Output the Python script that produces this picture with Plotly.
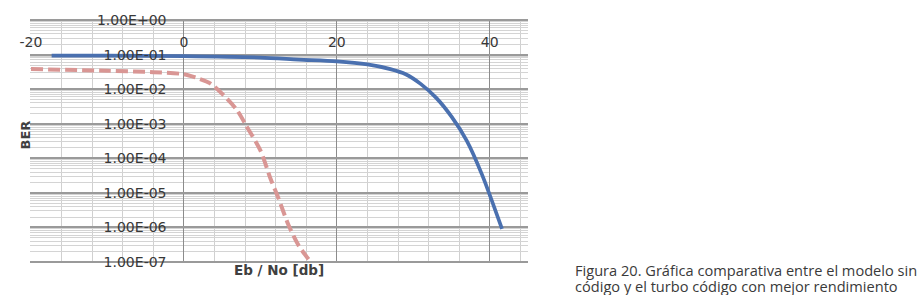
import plotly.graph_objects as go

# Data
ebno_uncoded = [-17.3, -10, 0, 10, 15, 20, 24, 27, 29, 31, 33, 35, 37, 39, 41.6]
ber_uncoded = [0.094, 0.093, 0.09, 0.082, 0.072, 0.064, 0.052, 0.038, 0.027, 0.014,
               0.0056, 0.0016, 3.2e-4, 3.3e-5, 9e-7]

ebno_turbo = [-20, -10, -4, 0, 2, 3.44, 5.18, 6.93, 8.24, 10, 11.29, 12.38, 13.69, 15, 16.3]
ber_turbo = [0.038, 0.034, 0.031, 0.027, 0.02, 0.0147, 0.0067, 0.0025, 8.1e-4, 1.7e-4,
             2.7e-5, 6.8e-6, 1.15e-6, 3e-7, 1.2e-7]

x_tickvals = [-20, 0, 20, 40]
x_ticktext = ["-20", "0", "20", "40"]
y_tickvals = [1e0, 1e-1, 1e-2, 1e-3, 1e-4, 1e-5, 1e-6, 1e-7]
y_ticktext = ["1.00E+00", "1.00E-01", "1.00E-02", "1.00E-03",
              "1.00E-04", "1.00E-05", "1.00E-06", "1.00E-07"]

caption_lines = ["Figura 20. Gráfica comparativa entre el modelo sin",
                 "código y el turbo código con mejor rendimiento"]

minor_y = [k * 10.0 ** n for n in range(-7, 0) for k in range(2, 10)]

W, H = 922, 295
L, R, T, B = 30, 528, 19, 263  # plot area pixel box


def px(xp):
    return (xp - L) / (R - L)


def py(yp):
    return (B - yp) / (B - T)


fig = go.Figure()
fig.add_trace(go.Scatter(x=ebno_turbo, y=ber_turbo, mode="lines",
                         line=dict(color="#D99694", width=4, dash="12px,5px", shape="spline", smoothing=0.8)))
fig.add_trace(go.Scatter(x=ebno_uncoded, y=ber_uncoded, mode="lines",
                         line=dict(color="#4A70AF", width=3.7, shape="spline", smoothing=0.8)))

tickfont = dict(family="DejaVu Sans", size=14, color="#383838")

fig.update_layout(
    width=W, height=H,
    margin=dict(l=L, r=W - R, t=T, b=H - B, pad=0),
    paper_bgcolor="white", plot_bgcolor="white",
    showlegend=False,
    xaxis=dict(range=[-20.13, 45], domain=[0, 1], anchor="free", position=py(54.5), side="top",
               tickmode="array", tickvals=x_tickvals, ticktext=x_ticktext,
               showgrid=True, gridcolor="#8c8c8c", gridwidth=1,
               minor=dict(tickmode="linear", tick0=-20, dtick=4, showgrid=True,
                          gridcolor="#d0d0d0", gridwidth=1, ticks=""),
               zeroline=False, showline=False, ticks="outside", ticklen=2,
               tickcolor="rgba(0,0,0,0)", tickfont=tickfont, automargin=False),
    yaxis=dict(type="log", range=[-7.03, 0.03], domain=[0, 1], anchor="free", position=px(183.3),
               tickmode="array", tickvals=y_tickvals, ticktext=y_ticktext,
               showgrid=True, gridcolor="#9a9a9a", gridwidth=1.5,
               minor=dict(tickmode="array", tickvals=minor_y, showgrid=True,
                          gridcolor="#d4d4d4", gridwidth=1, ticks=""),
               zeroline=False, showline=False, ticks="outside", ticklen=14,
               tickcolor="rgba(0,0,0,0)", tickfont=tickfont, automargin=False),
    annotations=[
        dict(text="<b>BER</b>", x=px(15), y=py(135), xref="paper", yref="paper",
             textangle=-90, showarrow=False, font=dict(family="DejaVu Sans", size=13, color="#404040")),
        dict(text="<b>Eb / No [db]</b>", x=px(278.5), y=py(280), xref="paper", yref="paper",
             showarrow=False, font=dict(family="DejaVu Sans", size=13.5, color="#404040")),
        dict(text=caption_lines[0], x=px(573), y=py(270), xref="paper", yref="paper",
             xanchor="left", yanchor="middle", align="left", showarrow=False,
             font=dict(family="Open Sans", size=14.6, color="#3a3a3a")),
        dict(text=caption_lines[1], x=px(573), y=py(286), xref="paper", yref="paper",
             xanchor="left", yanchor="middle", align="left", showarrow=False,
             font=dict(family="Open Sans", size=14.6, color="#3a3a3a")),
    ],
)

fig.write_html("out.html", config={"displayModeBar": False},
               post_script="document.body.style.margin='0px';")
